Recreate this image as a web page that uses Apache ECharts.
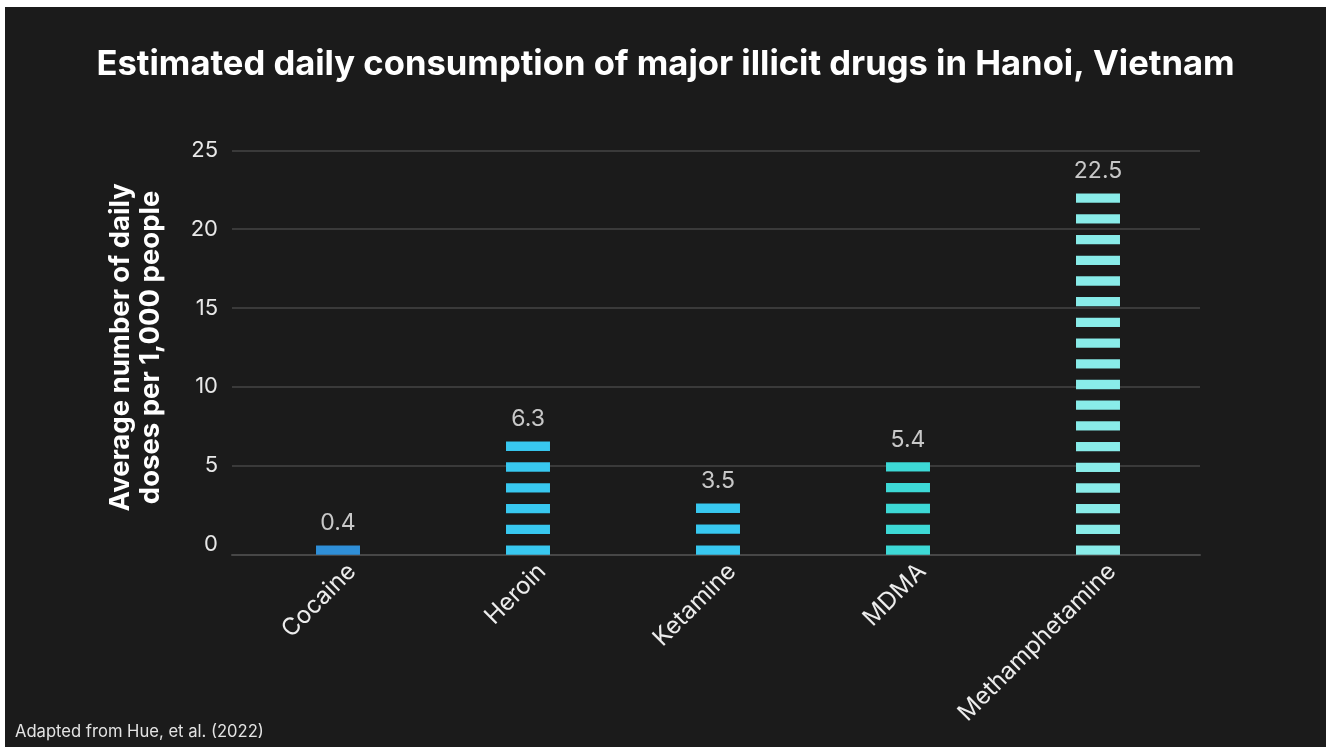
<!DOCTYPE html>
<html>
<head>
<meta charset="utf-8">
<script src="https://cdn.jsdelivr.net/npm/echarts@6/dist/echarts.min.js"></script>
<style>
  html, body { margin: 0; padding: 0; background: #ffffff; width: 1326px; height: 747px; overflow: hidden; }
  #chart { position: absolute; left: 5px; top: 7px; width: 1321px; height: 740px; background: #1b1b1b; }
</style>
</head>
<body>
<div id="chart"></div>
<script>
// ---- data ----
const categories = ['Cocaine', 'Heroin', 'Ketamine', 'MDMA', 'Methamphetamine'];
const values = [0.4, 6.3, 3.5, 5.4, 22.5];
const stripeCounts = [1, 6, 3, 5, 18];
const barColors = ['#2f8fd8', '#38c8f0', '#38c8f0', '#3dd9d6', '#89ece9'];
const yMin = 0, yMax = 25, yInterval = 5;
const titleText = 'Estimated daily consumption of major illicit drugs in Hanoi, Vietnam';
const yAxisName = 'Average number of daily\ndoses per 1,000 people';
const sourceText = 'Adapted from Hue, et al. (2022)';

// ---- layout ----
const GRID_TOP = 143.3, GRID_H = 394.2;
const PXU = GRID_H / (yMax - yMin);
const STRIPE_H = 9.3, BORDER = 1, PITCH = 20.67, SHIFT = 10.5, BAR_W = 44;

const chart = echarts.init(document.getElementById('chart'), null, { renderer: 'canvas' });

const barData = values.map((v, i) => {
  const n = stripeCounts[i];
  return {
    value: v,
    symbolRepeat: n,
    symbolBoundingData: ((n - 1) * PITCH + STRIPE_H + BORDER) / PXU,
    itemStyle: { color: barColors[i], borderColor: 'rgba(0,0,0,0.35)', borderWidth: BORDER }
  };
});
const labelData = values.map((v, i) => {
  const n = stripeCounts[i];
  return { value: [categories[i], ((n - 1) * PITCH + STRIPE_H + BORDER - SHIFT) / PXU], raw: v };
});

const font = 'Inter';
chart.setOption({
  animation: false,
  backgroundColor: '#1b1b1b',
  title: {
    text: titleText,
    left: 'center',
    top: 35,
    textStyle: { color: '#ffffff', fontSize: 34.6, fontWeight: 'bold', fontFamily: 'Inter' }
  },
  grid: [
    { left: 227, width: 968, top: GRID_TOP, height: GRID_H, containLabel: false },
    { left: 238, width: 950, top: GRID_TOP, height: GRID_H, containLabel: false },
    { left: 252, width: 950, top: GRID_TOP, height: GRID_H, containLabel: false }
  ],
  xAxis: [
    {
      gridIndex: 0, type: 'value', min: 0, max: 1, offset: 10.5,
      axisLine: { show: true, onZero: false, lineStyle: { color: '#474747', width: 2 } },
      axisTick: { show: false }, axisLabel: { show: false }, splitLine: { show: false }
    },
    {
      gridIndex: 1, type: 'category', data: categories,
      axisLine: { show: false }, axisTick: { show: false }, axisLabel: { show: false }
    },
    {
      gridIndex: 2, type: 'category', data: categories,
      axisLine: { show: false }, axisTick: { show: false },
      axisLabel: {
        interval: 0, rotate: 45, margin: 23, color: '#ececec',
        fontSize: 24, fontFamily: font, hideOverlap: false
      }
    }
  ],
  yAxis: [
    {
      gridIndex: 0, type: 'value', min: yMin, max: yMax, interval: yInterval,
      name: yAxisName, nameLocation: 'middle', nameRotate: 90, nameGap: 66,
      nameTextStyle: { color: '#ffffff', fontSize: 27.5, fontWeight: 'bold', fontFamily: font, lineHeight: 30, align: 'center' },
      axisLine: { show: false }, axisTick: { show: false },
      axisLabel: { color: '#e8e8e8', fontSize: 22, fontFamily: font, margin: 14 },
      splitLine: { show: true, lineStyle: { color: ['rgba(0,0,0,0)', '#3a3a3a', '#3a3a3a', '#3a3a3a', '#3a3a3a', '#3a3a3a'], width: 2 } }
    },
    {
      gridIndex: 1, type: 'value', min: yMin, max: yMax, interval: yInterval,
      axisLine: { show: false }, axisTick: { show: false },
      axisLabel: { show: false }, splitLine: { show: false }
    },
    {
      gridIndex: 2, type: 'value', min: yMin, max: yMax, interval: yInterval, show: false
    }
  ],
  series: [
    {
      type: 'pictorialBar',
      xAxisIndex: 1, yAxisIndex: 1,
      symbol: 'rect',
      symbolSize: [BAR_W, STRIPE_H],
      symbolOffset: [0, SHIFT],
      symbolPosition: 'start',
      symbolClip: false,
      data: barData,
      z: 3
    },
    {
      type: 'scatter',
      xAxisIndex: 1, yAxisIndex: 1,
      symbol: 'circle', symbolSize: 1,
      clip: false,
      itemStyle: { color: 'rgba(0,0,0,0)' },
      label: {
        show: true, position: 'top', distance: 10,
        color: '#f4f4f4', fontSize: 23, fontFamily: font,
        formatter: p => String(p.data.raw)
      },
      labelLayout: { hideOverlap: false },
      data: labelData,
      z: 4
    }
  ],
  graphic: [
    {
      type: 'text', left: 10, top: 716,
      style: { text: sourceText, fill: '#e4e4e4', font: '16.6px Inter' }
    }
  ]
});
</script>
</body>
</html>
